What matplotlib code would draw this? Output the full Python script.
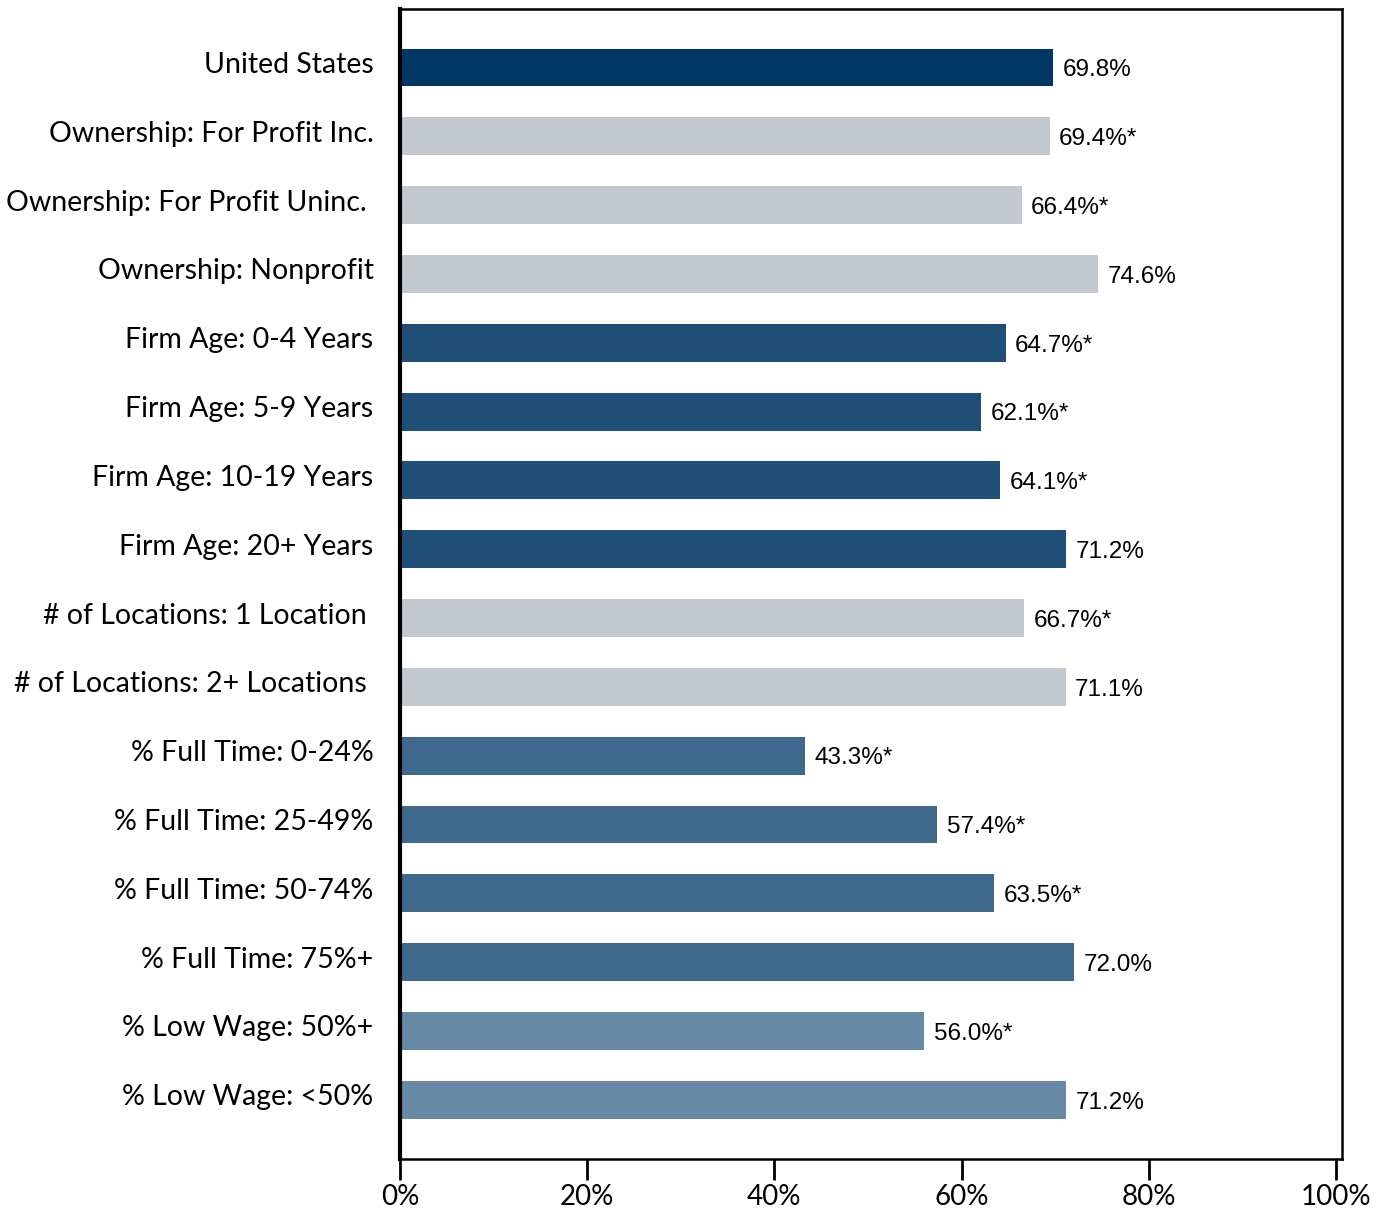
import numpy as np
import matplotlib.pyplot as plt
from matplotlib.ticker import FuncFormatter
from matplotlib.transforms import ScaledTranslation

categories = [
    "United States",
    "Ownership: For Profit Inc.",
    "Ownership: For Profit Uninc. ",
    "Ownership: Nonprofit",
    "Firm Age: 0-4 Years",
    "Firm Age: 5-9 Years",
    "Firm Age: 10-19 Years",
    "Firm Age: 20+ Years",
    "# of Locations: 1 Location ",
    "# of Locations: 2+ Locations ",
    "% Full Time: 0-24%",
    "% Full Time: 25-49%",
    "% Full Time: 50-74%",
    "% Full Time: 75%+",
    "% Low Wage: 50%+",
    "% Low Wage: <50%",
]
values = [69.8, 69.4, 66.4, 74.6, 64.7, 62.1, 64.1, 71.2,
          66.7, 71.1, 43.3, 57.4, 63.5, 72.0, 56.0, 71.2]
significant = [False, True, True, False, True, True, True, False,
               True, False, True, True, True, False, True, False]
groups = ["us", "own", "own", "own", "age", "age", "age", "age",
          "loc", "loc", "ft", "ft", "ft", "ft", "lw", "lw"]

group_colors = {
    "us": "#003764",
    "own": "#C1C8CF",
    "age": "#1F4E77",
    "loc": "#C1C8CF",
    "ft": "#3E698D",
    "lw": "#6889A6",
}

fig = plt.figure(figsize=(13.86, 12.13), dpi=100)
ax = fig.add_axes([400 / 1386, 1 - 1159 / 1213, 942 / 1386, 1150 / 1213])

y = np.arange(len(categories))
colors = [group_colors[g] for g in groups]
ax.barh(y, values, height=0.55, color=colors)

for yi, v, s in zip(y, values, significant):
    ax.text(v + 1.0, yi + 0.04, f"{v:.1f}%" + ("*" if s else ""),
            va="center", ha="left", fontsize=17.5, family="Liberation Sans")

ax.set_xlim(0, 100.64)
ax.set_ylim(len(categories) - 1 + 0.86, -0.85)
ax.set_xticks(np.arange(0, 101, 20))
ax.xaxis.set_major_formatter(FuncFormatter(lambda x, p: f"{x:.0f}%"))
ax.set_yticks(y)
ax.set_yticklabels(categories, fontsize=20.5, family="Lato")
ax.tick_params(axis="y", length=0, pad=19)
ax.tick_params(axis="x", length=15, width=2, labelsize=20, pad=3)
for t in ax.get_xticklabels():
    t.set_family("Lato")
shift = ScaledTranslation(0, 5 / 100, fig.dpi_scale_trans)
for lbl in ax.get_yticklabels():
    lbl.set_transform(lbl.get_transform() + shift)

for side in ["top", "right", "bottom"]:
    ax.spines[side].set_linewidth(1.8)
ax.spines["left"].set_linewidth(3)

fig.savefig("out.png", dpi=100)
